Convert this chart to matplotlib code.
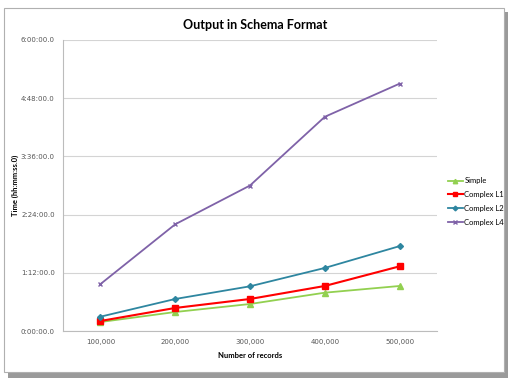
import matplotlib.pyplot as plt
from matplotlib.patches import Rectangle
from matplotlib.ticker import FuncFormatter

plt.rcParams["font.family"] = ["Lato", "DejaVu Sans"]

records = ["100,000", "200,000", "300,000", "400,000", "500,000"]
# times in minutes
simple = [11.1, 23.5, 33.4, 47.4, 55.7]
complex_l1 = [12.4, 28.5, 39.6, 55.7, 80.0]
complex_l2 = [17.7, 39.6, 55.3, 78.0, 105.0]
complex_l4 = [58.0, 132.0, 180.0, 265.0, 306.0]

yticks = [0, 72, 144, 216, 288, 360]


def fmt_time(v, pos):
    m = int(round(v))
    return f"{m // 60}:{m % 60:02d}:00.0"


fig = plt.figure(figsize=(5.18, 3.8), dpi=100)
fig.patch.set_facecolor("white")

# frame with shadow
fig.patches.append(Rectangle((8 / 518, 1 - 378 / 380), 500 / 518, 366 / 380,
                             transform=fig.transFigure, facecolor="#9a9a9a",
                             edgecolor="none", zorder=-2))
fig.patches.append(Rectangle((4 / 518, 1 - 372 / 380), 500 / 518, 364 / 380,
                             transform=fig.transFigure, facecolor="white",
                             edgecolor="#b0b0b0", lw=0.8, zorder=-1))

ax = fig.add_axes([63 / 518, 1 - 331 / 380, 374 / 518, 291 / 380])
ax.set_zorder(2)
ax.set_facecolor("none")
x = range(len(records))

ax.plot(x, simple, color="#92D050", marker="^", ms=4, lw=1.3, label="Simple")
ax.plot(x, complex_l1, color="#FF0000", marker="s", ms=4, lw=1.5, label="Complex L1")
ax.plot(x, complex_l2, color="#2E86A0", marker="D", ms=3, lw=1.3, label="Complex L2")
ax.plot(x, complex_l4, color="#7F62A8", marker="x", ms=3, lw=1.3, label="Complex L4")

ax.set_xlim(-0.5, len(records) - 0.5)
ax.set_ylim(0, 360)
ax.set_yticks(yticks)
ax.yaxis.set_major_formatter(FuncFormatter(fmt_time))
ax.set_xticks(list(x))
ax.set_xticklabels(records)
ax.grid(axis="y", color="#d4d4d4", lw=0.8)
ax.set_axisbelow(True)
for s in ["top", "right"]:
    ax.spines[s].set_visible(False)
for s in ["left", "bottom"]:
    ax.spines[s].set_color("#bcbcbc")
    ax.spines[s].set_linewidth(0.8)
ax.tick_params(axis="both", labelsize=5, colors="#555555", length=0, pad=6)
for lbl in ax.get_xticklabels() + ax.get_yticklabels():
    lbl.set_family("DejaVu Sans")

ax.set_xlabel("Number of records", fontsize=5.5, fontweight="bold", labelpad=5)
ax.set_ylabel("Time (hh:mm:ss.0)", fontsize=5.5, fontweight="bold")
ax.yaxis.set_label_coords(-0.118, 0.5)
fig.text(0.493, 1 - 25 / 380, "Output in Schema Format", ha="center", va="center",
         fontsize=9, fontweight="bold")

ax.legend(loc="center left", bbox_to_anchor=(1.01, 0.445), frameon=False,
          fontsize=5.5, handlelength=2.0, handletextpad=0.2, labelspacing=0.9,
          markerscale=0.8)

fig.savefig("out.png", dpi=100)
